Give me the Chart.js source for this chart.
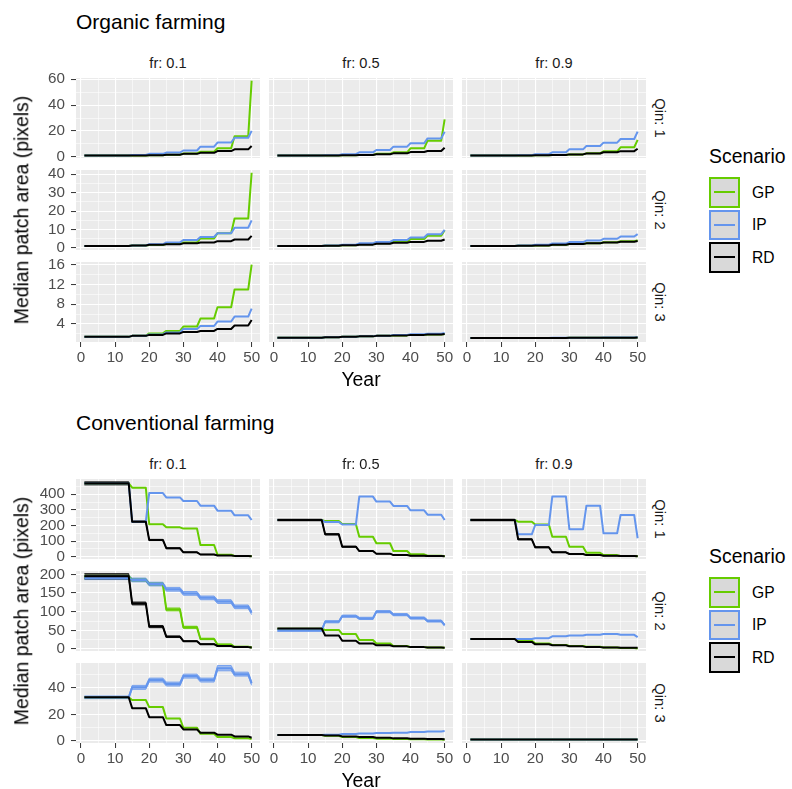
<!DOCTYPE html>
<html><head><meta charset="utf-8">
<script src="https://cdn.jsdelivr.net/npm/chart.js@4/dist/chart.umd.min.js"></script>
<style>
html,body{margin:0;padding:0;background:#fff;}
body{width:792px;height:789px;position:relative;overflow:hidden;font-family:"Liberation Sans",Arial,Helvetica,sans-serif;}
.t{position:absolute;white-space:nowrap;line-height:1;}
canvas{position:absolute;}
.key{position:absolute;box-sizing:border-box;background:#D9D9D9;border:2px solid #000;}
.key i{position:absolute;left:3px;right:3px;top:50%;height:1.6px;margin-top:-0.8px;display:block;}
</style>
</head><body>
<script>
// ---------------- DATA ----------------
// years are grouped in blocks with constant median values
const blockStart = [1, 15, 20, 25, 30, 35, 40, 45, 50];
const blockEnd   = [14, 19, 24, 29, 34, 39, 44, 49, 50];
const frLabels  = ['fr: 0.1', 'fr: 0.5', 'fr: 0.9'];
const qinLabels = ['Qin: 1', 'Qin: 2', 'Qin: 3'];
const scenarios = ['GP', 'IP', 'RD'];
const xMajorTicks = [0, 10, 20, 30, 40, 50];
const xMinorTicks = [5, 15, 25, 35, 45];

// Organic farming: [Qin][fr][block]
const organicGP = [
  [[1,1,1.2,1.6,2.5,3.9,6.5,15.8,59],[1,1,1.1,1.4,2.2,3.4,6.5,12.4,29],[1,1,1.1,1.3,1.8,2.6,4.2,7.3,13]],
  [[1.1,1.3,1.6,2.2,3,5.2,8,16,40.8],[1.1,1.2,1.5,2,2.6,3.4,4.8,6.6,9.6],[1.1,1.2,1.4,1.7,2.1,2.6,3.1,3.6,4.2]],
  [[1.4,1.6,2.1,2.6,3.5,5.1,7.4,11,16],[1.2,1.3,1.4,1.5,1.6,1.7,1.8,1.9,2.0],[1.15,1.15,1.15,1.15,1.2,1.2,1.2,1.2,1.25]]
];
const organicIP = [
  [[1,1.3,2.2,3.2,4.8,7.8,11,14.7,20],[1,1.2,2,3.4,5.2,7.8,10.4,14.2,19.4],[1,1.2,2,3.4,5.7,8.3,10.9,13.7,19.4]],
  [[1.1,1.3,2,3,4.3,6,8,11,15],[1.1,1.3,1.8,2.5,3.3,4.3,5.7,7.5,9.8],[1.1,1.3,1.8,2.4,3.2,4,5,6.2,7.5]],
  [[1.4,1.6,1.9,2.3,3.0,3.6,4.5,5.5,7.1],[1.2,1.3,1.4,1.5,1.65,1.8,1.95,2.05,2.2],[1.15,1.15,1.15,1.2,1.2,1.2,1.25,1.25,1.3]]
];
const organicRD = [
  [[1,1,1.2,1.5,2.2,3,4.4,5.7,8.3],[1,1,1.1,1.4,1.9,2.6,3.6,4.4,7],[1,1,1.1,1.3,1.8,2.5,3.5,4.3,6.2]],
  [[1.1,1.4,1.7,2,2.5,3,3.7,4.6,6.6],[1.1,1.2,1.5,1.8,2.3,2.8,3.3,3.9,4.6],[1.1,1.2,1.4,1.7,2.1,2.5,3,3.4,3.8]],
  [[1.4,1.6,1.8,2.1,2.4,2.6,3.0,3.7,4.8],[1.2,1.3,1.4,1.5,1.6,1.7,1.8,1.9,2.0],[1.15,1.15,1.15,1.15,1.2,1.2,1.2,1.2,1.25]]
];

// Conventional farming: [Qin][fr][block]
const convGP = [
  [[470,442,208,188,180,75,12,5,3],[235,228,210,128,86,36,15,6,3],[235,224,206,128,64,25,10,5,3]],
  [[193,185,174,106,58,27,12,6,4],[54,51,40,24,15,8,5,4,3],[27,22,15,11,8,6,4,2.5,1.5]],
  [[33,31,25.6,17,10,5.5,3,2,1.5],[4.5,4,3,2.3,1.8,1.5,1.3,1.1,1],[1.2,1.2,1.2,1.2,1.2,1.2,1.2,1.2,1.2]]
];
const convIP = [
  [[470,224,408,380,357,327,295,265,235],[235,222,206,385,353,325,297,269,235],[235,143,203,385,176,327,150,267,118]],
  [[190,185,174,160,149,137,127,113,97],[50,73,88,82,100,92,83,75,64],[27,27,29,34,36,38,40,38,32]],
  [[33,40.5,46,43,49,46,55,50.5,43.5],[4.5,4.8,5.3,5.7,6,6.3,6.8,7.2,7.5],[1.2,1.2,1.2,1.2,1.2,1.2,1.2,1.2,1.2]]
];
const convRD = [
  [[470,224,107,54,28,14,8,5,3],[235,143,64,36,19,10,6,4,3],[235,111,60,28,17,10,6,4,3]],
  [[195,122,60,33,21,13,8,5,4],[55,36,22,15,10,7,5,4,3],[27,19,12.5,10,7,5,4,3,3]],
  [[33,24.8,18,12,8.7,6.3,4.8,3.5,2.5],[4.5,4.2,3.5,3,2.5,2,1.8,1.5,1.3],[1.2,1.2,1.2,1.2,1.2,1.2,1.2,1.2,1.2]]
];

// Uncertainty ribbons (lower / upper) for the widest bands: [Qin, fr, scenario, lower, upper]
const convRibbons = [
  [0, 0, 'RD', [460,219,103,51,26,13,7,4,2], [480,229,111,57,30,15,9,6,4]],
  [0, 1, 'RD', [230,139,61,34,18,9,5,3,2], [240,147,67,38,20,11,7,5,4]],
  [0, 2, 'RD', [230,108,57,26,16,9,5,3,2], [240,114,63,30,18,11,7,5,4]],
  [1, 0, 'RD', [188,118,57,31,20,12,7,4,3], [202,126,63,35,22,14,9,6,5]],
  [1, 0, 'IP', [186,180,169,155,144,132,122,108,92], [196,190,179,165,154,142,132,118,102]],
  [1, 0, 'GP', [188,181,170,102,55,25,11,5,3], [198,189,178,110,61,29,13,7,5]],
  [1, 1, 'IP', [47,70,85,79,97,89,80,72,61], [53,76,91,85,103,95,86,78,67]],
  [2, 0, 'IP', [32,39,44.5,41.5,47.5,44.5,53,49,42], [34,42,47.5,44.5,50.5,47.5,57,52,45]]
];

// y axes per row
const organicYMajor = [[0,20,40,60],[0,10,20,30,40],[4,8,12,16]];
const organicYMinor = [[10,30,50],[5,15,25,35],[2,6,10,14]];
const organicYRange = [[-1,61],[-1.1,42.3],[0.36,16.55]];
const convYMajor = [[0,100,200,300,400],[0,50,100,150,200],[0,20,40]];
const convYMinor = [[50,150,250,350,450],[25,75,125,175],[10,30,50]];
const convYRange = [[-15,498],[-5.4,209],[-1.5,58.9]];

// ---------------- STYLE / LAYOUT ----------------
const COLORS = {GP:'#66CC00', IP:'#6495ED', RD:'#000000'};
const RIB = {GP:'rgba(102,204,0,0.55)', IP:'rgba(100,149,237,0.55)', RD:'rgba(0,0,0,0.55)'};
const FONT = '"Liberation Sans", Arial, Helvetica, sans-serif';
const TICK_SIZE = 15.2;
const colLeft = [76, 269, 462];
const panelW = 184, panelH = 80;
const organicTop = [78, 170, 262];
const convTop = [479, 571, 663];
const PL = 56, PT = 20, PR = 8, PB = 28;

function addText(txt, x, y, css, anchor) {
  const d = document.createElement('div');
  d.className = 't';
  d.textContent = txt;
  d.style.left = x + 'px';
  d.style.top = y + 'px';
  Object.assign(d.style, css || {});
  d.style.transform = anchor || 'translate(-50%,-50%)';
  document.body.appendChild(d);
  return d;
}

function toPoints(vals) {
  const pts = [];
  vals.forEach((v, i) => {
    pts.push({x: blockStart[i], y: v});
    if (blockEnd[i] !== blockStart[i]) pts.push({x: blockEnd[i], y: v});
  });
  return pts;
}

const bgPlugin = {
  id: 'panelbg',
  beforeDraw(chart) {
    const a = chart.chartArea, c = chart.ctx;
    c.save(); c.fillStyle = '#EBEBEB';
    c.fillRect(a.left, a.top, a.right - a.left, a.bottom - a.top);
    c.restore();
  }
};

function makePanel(rowTop, qi, fi, series, ribbons, yMajor, yMinor, yRange) {
  const cv = document.createElement('canvas');
  const w = panelW + PL + PR, h = panelH + PT + PB;
  cv.width = w; cv.height = h;
  cv.style.width = w + 'px'; cv.style.height = h + 'px';
  cv.style.left = (colLeft[fi] - PL) + 'px';
  cv.style.top = (rowTop[qi] - PT) + 'px';
  document.body.appendChild(cv);

  const datasets = [];
  ribbons.filter(r => r[0] === qi && r[1] === fi).forEach(r => {
    const sc = r[2];
    const li = datasets.length;
    datasets.push({data: toPoints(r[3]), borderColor: COLORS[sc], borderWidth: 0.8, pointRadius: 0, fill: false, order: 20, tension: 0});
    datasets.push({data: toPoints(r[4]), borderColor: COLORS[sc], borderWidth: 0.8, pointRadius: 0, fill: {target: li}, backgroundColor: RIB[sc], order: 20, tension: 0});
  });
  scenarios.forEach((sc, si) => {
    datasets.push({data: toPoints(series[sc][qi][fi]), borderColor: COLORS[sc], borderWidth: 2, pointRadius: 0, fill: false, order: 3 - si, tension: 0, borderJoinStyle: 'round'});
  });

  const showY = fi === 0, showX = qi === 2;
  const yMaj = yMajor[qi], yMin = yMinor[qi];
  const yAll = yMaj.concat(yMin).sort((a, b) => a - b);
  const xAll = xMajorTicks.concat(xMinorTicks).sort((a, b) => a - b);

  new Chart(cv, {
    type: 'line',
    data: {datasets},
    options: {
      responsive: false, animation: false, devicePixelRatio: 1,
      layout: {padding: {top: PT, right: PR, left: 0, bottom: 0}},
      plugins: {legend: {display: false}, tooltip: {enabled: false}},
      scales: {
        x: {
          type: 'linear', min: -1.45, max: 52.45,
          afterFit(s) { s.height = PB; },
          afterBuildTicks(s) { s.ticks = xAll.map(v => ({value: v})); },
          border: {display: false},
          grid: {
            color: '#FFFFFF',
            lineWidth: c => xMajorTicks.includes(c.tick.value) ? 1.1 : 0.55,
            tickColor: c => (showX && xMajorTicks.includes(c.tick.value)) ? '#333333' : 'rgba(0,0,0,0)',
            tickLength: 5, tickWidth: 1
          },
          ticks: {
            autoSkip: false, maxRotation: 0, padding: 2, color: '#4D4D4D',
            font: {family: FONT, size: TICK_SIZE},
            callback: v => (showX && xMajorTicks.includes(v)) ? String(v) : ''
          }
        },
        y: {
          type: 'linear', min: yRange[qi][0], max: yRange[qi][1],
          afterFit(s) { s.width = PL; },
          afterBuildTicks(s) { s.ticks = yAll.map(v => ({value: v})); },
          border: {display: false},
          grid: {
            color: '#FFFFFF',
            lineWidth: c => yMaj.includes(c.tick.value) ? 1.1 : 0.55,
            tickColor: c => (showY && yMaj.includes(c.tick.value)) ? '#333333' : 'rgba(0,0,0,0)',
            tickLength: 5, tickWidth: 1
          },
          ticks: {
            autoSkip: false, padding: 6, color: '#4D4D4D',
            font: {family: FONT, size: TICK_SIZE},
            callback: v => (showY && yMaj.includes(v)) ? String(v) : ''
          }
        }
      }
    },
    plugins: [bgPlugin]
  });
}

function makeGrid(title, titleY, rowTop, series, ribbons, yMajor, yMinor, yRange, legendTop) {
  addText(title, 76, titleY, {fontSize: '21px', color: '#000'}, 'translate(0,-50%)');
  for (let fi = 0; fi < 3; fi++) {
    addText(frLabels[fi], colLeft[fi] + panelW / 2, rowTop[0] - 15, {fontSize: '14.6px', color: '#1A1A1A'});
  }
  for (let qi = 0; qi < 3; qi++) {
    addText(qinLabels[qi], 660, rowTop[qi] + panelH / 2, {fontSize: '14.8px', color: '#1A1A1A'}, 'translate(-50%,-50%) rotate(90deg)');
    for (let fi = 0; fi < 3; fi++) makePanel(rowTop, qi, fi, series, ribbons, yMajor, yMinor, yRange);
  }
  addText('Median patch area (pixels)', 22, (rowTop[0] + rowTop[2] + panelH) / 2, {fontSize: '19.4px', color: '#000'}, 'translate(-50%,-50%) rotate(-90deg)');
  addText('Year', 361, rowTop[2] + panelH + 38, {fontSize: '19.4px', color: '#000'});
  // legend
  addText('Scenario', 709, legendTop - 20, {fontSize: '19.4px', color: '#000'}, 'translate(0,-50%)');
  scenarios.forEach((sc, i) => {
    const k = document.createElement('div');
    k.className = 'key';
    k.style.left = '709px'; k.style.top = (legendTop + i * 32.5) + 'px';
    k.style.width = '31px'; k.style.height = '30.5px';
    k.style.borderColor = COLORS[sc];
    const ln = document.createElement('i'); ln.style.background = COLORS[sc];
    k.appendChild(ln);
    document.body.appendChild(k);
    addText(sc, 752, legendTop + i * 32.5 + 15.5, {fontSize: '15.6px', color: '#000'}, 'translate(0,-50%)');
  });
}

makeGrid('Organic farming', 21, organicTop, {GP: organicGP, IP: organicIP, RD: organicRD}, [], organicYMajor, organicYMinor, organicYRange, 177);
makeGrid('Conventional farming', 422, convTop, {GP: convGP, IP: convIP, RD: convRD}, convRibbons, convYMajor, convYMinor, convYRange, 577);
</script>
</body></html>
